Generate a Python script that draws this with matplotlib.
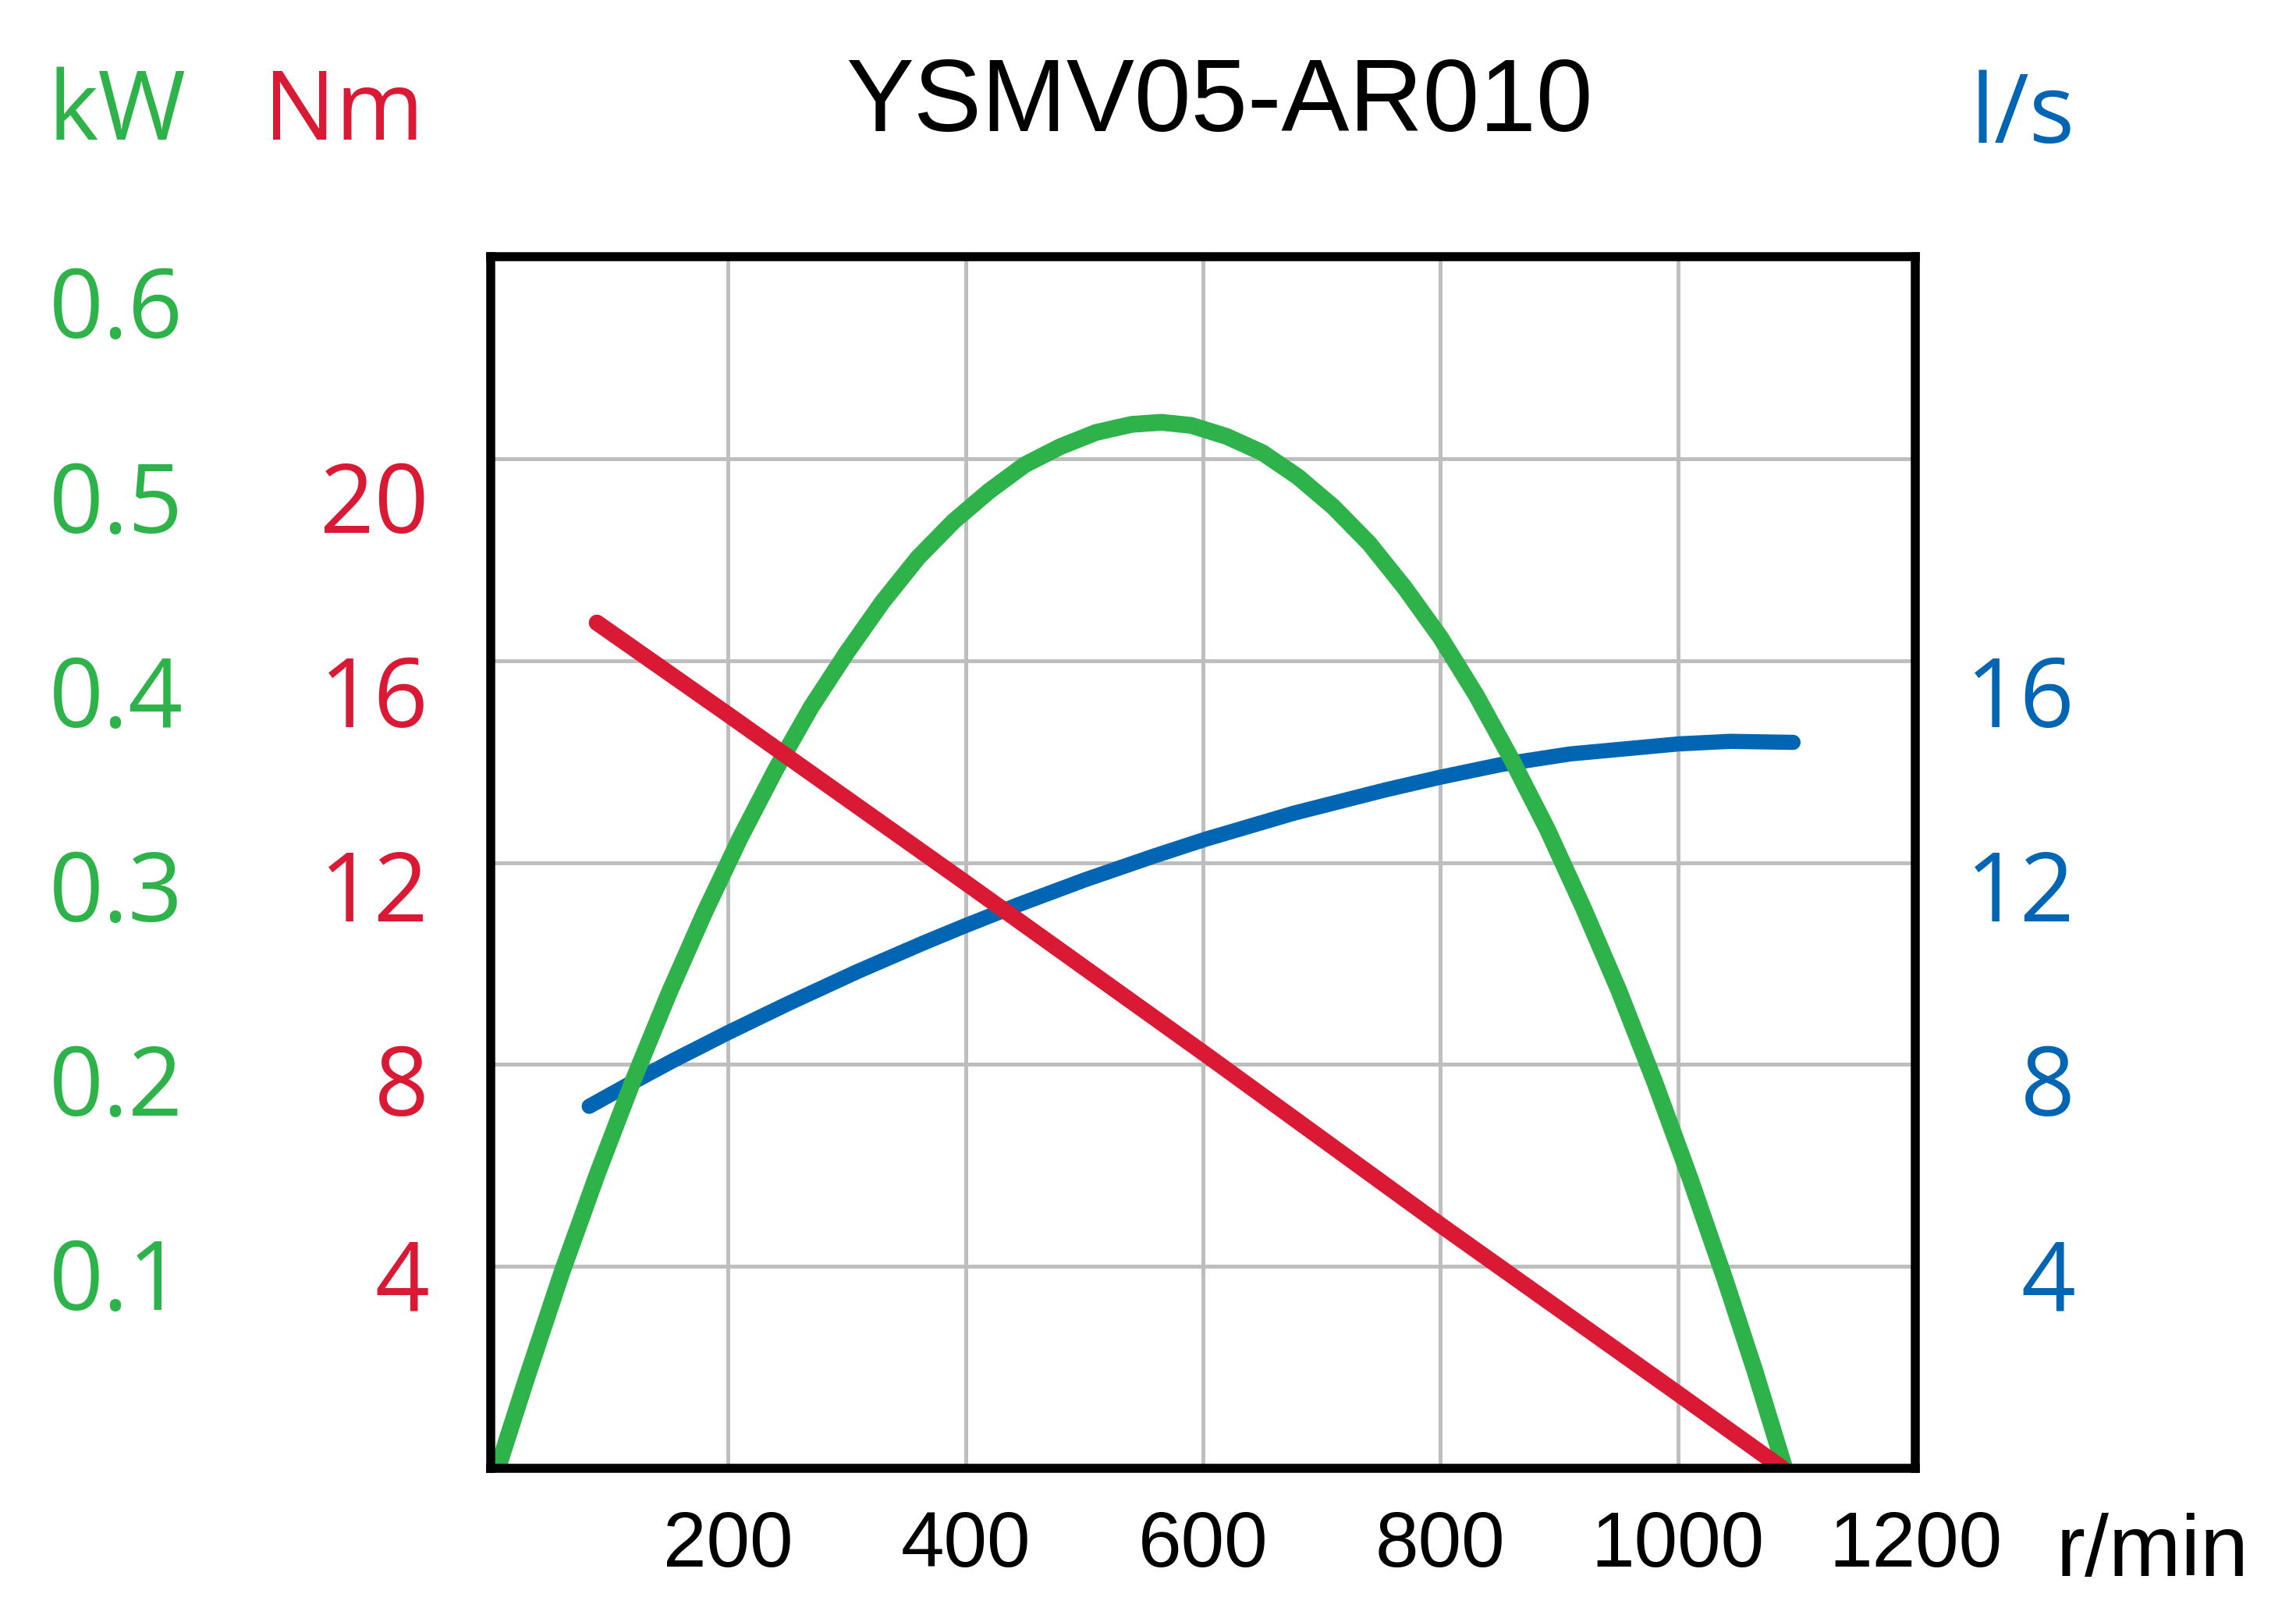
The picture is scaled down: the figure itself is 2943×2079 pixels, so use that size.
import matplotlib
matplotlib.use('Agg')
import matplotlib.pyplot as plt

# 데이터
rpm_kw = [6, 30, 60, 90, 120, 150, 180, 210, 240, 270, 300, 330, 360, 390,
          420, 450, 480, 510, 540, 565, 590, 620, 650, 680, 710, 740, 770,
          800, 830, 860, 890, 920, 950, 980, 1010, 1040, 1065, 1090]
power_kw = [0.0, 0.044, 0.097, 0.146, 0.192, 0.235, 0.275, 0.312, 0.346,
            0.377, 0.404, 0.429, 0.451, 0.469, 0.484, 0.497, 0.506, 0.513,
            0.517, 0.518, 0.5165, 0.511, 0.503, 0.491, 0.476, 0.458, 0.436,
            0.4115, 0.383, 0.351, 0.3165, 0.278, 0.237, 0.192, 0.144, 0.093,
            0.048, 0.0]

rpm_nm = [89.5, 200, 400, 605, 800, 1000, 1088]
torque_nm = [16.75, 14.93, 11.60, 8.15, 4.82, 1.48, 0.0]

rpm_ls = [83, 116, 154, 200, 251, 309, 366, 400, 444, 501, 559, 602, 677,
          754, 800, 851, 909, 1001, 1044, 1097]
flow_ls = [7.17, 7.60, 8.08, 8.63, 9.21, 9.84, 10.42, 10.75, 11.16, 11.66,
           12.13, 12.46, 12.98, 13.44, 13.69, 13.94, 14.15, 14.35, 14.40,
           14.38]

x_ticks = [0, 200, 400, 600, 800, 1000, 1200]
x_labels = ['', '200', '400', '600', '800', '1000', '1200']
kw_ticks = [0.1, 0.2, 0.3, 0.4, 0.5, 0.6]
kw_labels = ['0.1', '0.2', '0.3', '0.4', '0.5', '0.6']
nm_ticks = [4, 8, 12, 16, 20]
nm_labels = ['4', '8', '12', '16', '20']
ls_ticks = [4, 8, 12, 16]
ls_labels = ['4', '8', '12', '16']
grid_ticks = [0, 4, 8, 12, 16, 20, 24]

title = 'YSMV05-AR010'

GREEN = '#2db34a'
RED = '#da1a35'
BLUE = '#0066b3'
GRID = '#bebebe'

# 눈금 라벨이 격자보다 조금씩 아래쪽으로 모여 있음
LABEL_SQUEEZE = 0.963

NARROW = ['Liberation Sans', 'DejaVu Sans']
SANS = ['Open Sans', 'DejaVu Sans']

fig = plt.figure(figsize=(29.43, 20.79), dpi=100)
pos = [0.2137, 0.0948, 0.6205, 0.7469]

# 격자용 기본 축
ax = fig.add_axes(pos)
ax.set_xlim(0, 1200)
ax.set_ylim(0, 24)
ax.set_xticks(x_ticks)
ax.set_xticklabels(x_labels, fontsize=72, family=NARROW)
ax.set_yticks(grid_ticks)
ax.set_yticklabels([])
ax.tick_params(length=0)
ax.tick_params(axis='x', pad=38)
ax.grid(True, color=GRID, linewidth=3.6)
ax.set_axisbelow(True)
for s in ax.spines.values():
    s.set_visible(False)


def label_axis(ylim, ticks, labels, color, side, pad):
    a = ax.twinx()
    a.set_ylim(*ylim)
    a.set_yticks([t * LABEL_SQUEEZE for t in ticks])
    a.set_yticklabels(labels, fontsize=88, family=SANS, color=color)
    if side == 'left':
        a.yaxis.tick_left()
    else:
        a.yaxis.tick_right()
        for lbl in a.get_yticklabels():
            lbl.set_horizontalalignment('right')
    a.tick_params(axis='y', length=0, pad=pad)
    for s in a.spines.values():
        s.set_visible(False)
    return a


# l/s (파랑), kW (초록), Nm (빨강) 순서로 그림
ax_ls = label_axis((0, 24), ls_ticks, ls_labels, BLUE, 'right', 147.6)
ax_ls.plot(rpm_ls, flow_ls, color=BLUE, linewidth=14, solid_capstyle='round',
           solid_joinstyle='round')

ax_kw = label_axis((0, 0.6), kw_ticks, kw_labels, GREEN, 'left', 283.7)
ax_kw.plot(rpm_kw, power_kw, color=GREEN, linewidth=15.5, solid_capstyle='round',
           solid_joinstyle='round')

ax_nm = label_axis((0, 24), nm_ticks, nm_labels, RED, 'left', 56.9)
ax_nm.plot(rpm_nm, torque_nm, color=RED, linewidth=15, solid_capstyle='round',
           solid_joinstyle='round')
for s in ax_nm.spines.values():
    s.set_visible(True)
    s.set_linewidth(8.3)
    s.set_color('black')

# 제목과 단위
fig.text(0.531, 0.919, title, ha='center', va='baseline', fontsize=94,
         family=NARROW, color='black')
fig.text(0.021, 0.914, 'kW', ha='left', va='baseline', fontsize=88,
         family=SANS, color=GREEN)
fig.text(0.115, 0.914, 'Nm', ha='left', va='baseline', fontsize=88,
         family=SANS, color=RED)
fig.text(0.858, 0.912, 'l/s', ha='left', va='baseline', fontsize=88,
         family=SANS, color=BLUE)
fig.text(0.8955, 0.0284, 'r/min', ha='left', va='baseline', fontsize=80,
         family=NARROW, color='black')

fig.savefig('out.png', dpi=100, facecolor='white')
